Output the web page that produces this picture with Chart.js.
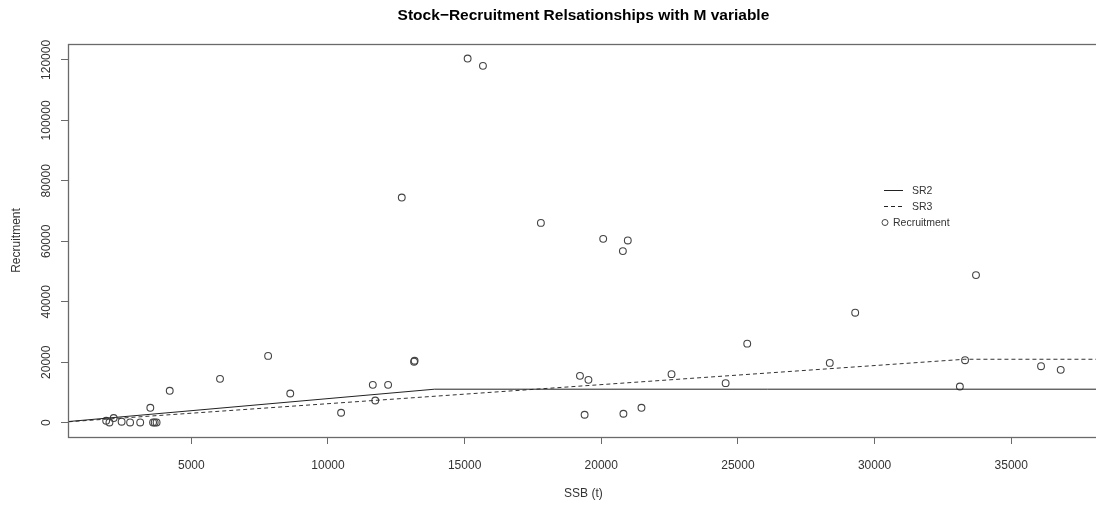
<!DOCTYPE html>
<html>
<head>
<meta charset="utf-8">
<script src="https://cdn.jsdelivr.net/npm/chart.js@4"></script>
<style>
  html, body { margin: 0; padding: 0; background: #fff; overflow: hidden; }
  canvas { display: block; }
</style>
</head>
<body>
<canvas id="sr" width="1104" height="508"></canvas>
<script>
// Observed spawning stock biomass (t) and recruitment
const ssb = [1885, 2005, 2160, 2450, 2760, 3130, 3600, 3660, 3730, 3500,
             4210, 6050, 7810, 8620, 10480, 11640, 11730, 12200, 13150, 13170,
             12700, 15110, 15670, 17790, 19220, 19390, 19530, 20070, 20790, 20810,
             20970, 21470, 22570, 24550, 25340, 28360, 29290, 33120, 33310, 33710,
             36090, 36810];
const recruitment = [660, 100, 1550, 350, 100, 100, 100, 100, 100, 4950,
                     10560, 14520, 22110, 9670, 3300, 12540, 7360, 12540, 20200, 20500,
                     74490, 120460, 118050, 66100, 15510, 2640, 14190, 60830, 56770, 2970,
                     60300, 4950, 16070, 13100, 26170, 19800, 36400, 11980, 20690, 48840,
                     18710, 17490];

// Segmented (hockey-stick) stock-recruitment fits
const sr2Ssb = [0, 13900, 40000];
const sr2Rec = [0, 11100, 11100];
const sr3Ssb = [0, 33300, 40000];
const sr3Rec = [0, 21000, 21000];

// Axis ticks
const xTicks = [5000, 10000, 15000, 20000, 25000, 30000, 35000];
const yTicks = [0, 20000, 40000, 60000, 80000, 100000, 120000];

const titleText = 'Stock\u2212Recruitment Relsationships with M variable';
const xTitle = 'SSB (t)';
const yTitle = 'Recruitment';
const legendLabels = ['SR2', 'SR3', 'Recruitment'];

const FONT = '"Liberation Sans", Arial, Helvetica, sans-serif';
const INK = '#333';
const AXIS = '#6a6a6a';

const toXY = (xs, ys) => xs.map((x, i) => ({ x: x, y: ys[i] }));

const decorations = {
  id: 'decorations',
  afterDraw(chart) {
    const ctx = chart.ctx;
    const a = chart.chartArea;
    const xs = chart.scales.x, ys = chart.scales.y;
    ctx.save();

    // plot frame
    ctx.strokeStyle = AXIS;
    ctx.lineWidth = 1.3;
    ctx.strokeRect(Math.round(a.left) + 0.5, Math.round(a.top) + 0.5,
                   Math.round(a.right - a.left), Math.round(a.bottom - a.top));

    // x tick labels
    ctx.fillStyle = INK;
    ctx.font = '12px ' + FONT;
    ctx.textAlign = 'center';
    ctx.textBaseline = 'middle';
    xTicks.forEach(v => ctx.fillText(String(v), xs.getPixelForValue(v), 466));

    // y tick labels (rotated, read bottom to top)
    yTicks.forEach(v => {
      ctx.save();
      ctx.translate(47, ys.getPixelForValue(v));
      ctx.rotate(-Math.PI / 2);
      ctx.fillText(String(v), 0, 0);
      ctx.restore();
    });

    // axis titles
    ctx.fillText(xTitle, (a.left + a.right) / 2, 494);
    ctx.save();
    ctx.translate(17, (a.top + a.bottom) / 2);
    ctx.rotate(-Math.PI / 2);
    ctx.fillText(yTitle, 0, 0);
    ctx.restore();

    // main title
    ctx.fillStyle = '#000';
    ctx.font = 'bold 15.5px ' + FONT;
    ctx.fillText(titleText, (a.left + a.right) / 2, 16);

    // legend
    ctx.font = '10.5px ' + FONT;
    ctx.fillStyle = INK;
    ctx.textAlign = 'left';
    ctx.strokeStyle = '#222';
    ctx.lineWidth = 1;
    ctx.beginPath();
    ctx.moveTo(884, 190.5); ctx.lineTo(903, 190.5);
    ctx.stroke();
    ctx.setLineDash([4, 3]);
    ctx.beginPath();
    ctx.moveTo(884, 206.5); ctx.lineTo(903, 206.5);
    ctx.stroke();
    ctx.setLineDash([]);
    ctx.strokeStyle = '#444';
    ctx.beginPath();
    ctx.arc(885, 222.5, 3, 0, Math.PI * 2);
    ctx.stroke();
    ctx.fillText(legendLabels[0], 912, 191);
    ctx.fillText(legendLabels[1], 912, 207);
    ctx.fillText(legendLabels[2], 893, 223);

    ctx.restore();
  }
};

new Chart(document.getElementById('sr'), {
  type: 'scatter',
  data: {
    datasets: [
      {
        label: legendLabels[0],
        type: 'line',
        data: toXY(sr2Ssb, sr2Rec),
        borderColor: '#222',
        borderWidth: 1,
        pointRadius: 0,
        fill: false,
        tension: 0
      },
      {
        label: legendLabels[1],
        type: 'line',
        data: toXY(sr3Ssb, sr3Rec),
        borderColor: '#333',
        borderWidth: 1,
        borderDash: [4, 3],
        pointRadius: 0,
        fill: false,
        tension: 0
      },
      {
        label: legendLabels[2],
        data: toXY(ssb, recruitment),
        pointStyle: 'circle',
        pointRadius: 3.4,
        pointBorderWidth: 1.1,
        borderColor: '#444',
        backgroundColor: 'rgba(0,0,0,0)',
        pointBackgroundColor: 'rgba(0,0,0,0)'
      }
    ]
  },
  options: {
    responsive: false,
    animation: false,
    layout: { padding: { top: 44, right: 4, left: 0, bottom: 0 } },
    plugins: {
      legend: { display: false },
      tooltip: { enabled: false },
      title: { display: false }
    },
    scales: {
      x: {
        type: 'linear',
        min: 488,
        max: 38207,
        afterBuildTicks: s => { s.ticks = xTicks.map(v => ({ value: v })); },
        afterFit: s => { s.height = 71; },
        ticks: { display: false },
        border: { display: false },
        grid: { drawOnChartArea: false, drawTicks: true, tickLength: 7, color: AXIS, lineWidth: 1 }
      },
      y: {
        type: 'linear',
        min: -4714,
        max: 125274,
        afterBuildTicks: s => { s.ticks = yTicks.map(v => ({ value: v })); },
        afterFit: s => { s.width = 68; },
        ticks: { display: false },
        border: { display: false },
        grid: { drawOnChartArea: false, drawTicks: true, tickLength: 7, color: AXIS, lineWidth: 1 }
      }
    }
  },
  plugins: [decorations]
});
</script>
</body>
</html>
